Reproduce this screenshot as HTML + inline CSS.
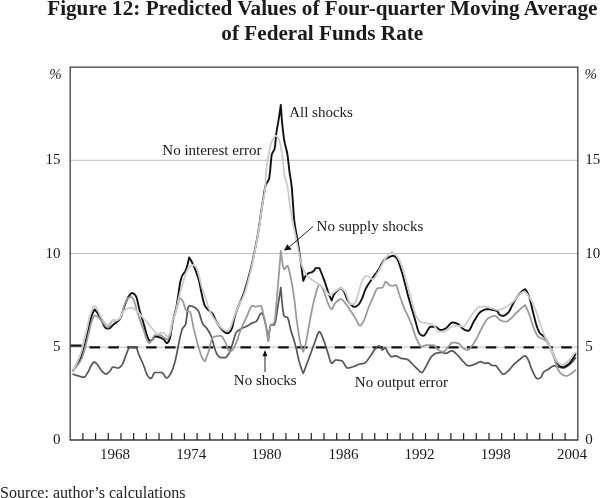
<!DOCTYPE html>
<html lang="en">
<head>
<meta charset="utf-8">
<title>Figure 12: Predicted Values of Four-quarter Moving Average of Federal Funds Rate</title>
<style>
html,body{margin:0;padding:0;background:#fff;-webkit-font-smoothing:antialiased;}
body{width:600px;height:498px;overflow:hidden;position:relative;font-family:"Liberation Serif","Times New Roman",serif;color:#111;}
#title{position:absolute;left:0;top:-4.4px;width:644.6px;text-align:center;font-weight:bold;font-size:21.2px;line-height:24.5px;color:#1a1a1a;white-space:nowrap;}
#source{position:absolute;left:0px;top:483.8px;font-size:16px;line-height:18px;color:#222;white-space:nowrap;}
svg{position:absolute;left:0;top:0;}
#title,#source,svg{will-change:transform;}
svg text{font-family:"Liberation Serif","Times New Roman",serif;font-size:15px;fill:#1a1a1a;}
</style>
</head>
<body>
<div id="title">Figure 12: Predicted Values of Four-quarter Moving Average<br>of Federal Funds Rate</div>
<svg width="600" height="498" viewBox="0 0 600 498">
  <!-- gridlines -->
  <g stroke="#b4b7ba" stroke-width="0.9" fill="none">
    <path d="M70.2,160.3 H577.8 M70.2,253.5 H577.8 M70.2,347.2 H577.8"/>
  </g>
  <!-- series -->
  <g fill="none" stroke-linejoin="round" stroke-linecap="butt">
    <path d="M89.5,347.4 H577.8" stroke="#111" stroke-width="2.4" stroke-dasharray="10.5 8.37"/>
    <path d="M70.6,345.6 H81.6" stroke="#111" stroke-width="2.2"/>
    <path d="M72.5,374.0 L73.5,374.4 L74.5,374.7 L75.5,375.0 L76.5,375.4 L77.5,375.7 L78.0,375.8 L78.5,375.9 L79.5,376.2 L80.5,376.6 L81.5,376.8 L82.5,377.1 L83.5,377.2 L84.0,377.2 L84.5,377.1 L85.5,376.1 L86.5,374.6 L87.5,373.0 L88.5,371.2 L89.5,369.0 L90.5,366.9 L91.0,366.0 L91.5,365.2 L92.5,363.4 L93.5,362.2 L94.0,362.0 L94.5,362.1 L95.5,362.7 L96.5,363.5 L97.0,364.0 L97.5,364.5 L98.5,366.1 L99.5,367.8 L100.5,369.4 L101.0,370.0 L101.5,370.5 L102.5,371.6 L103.5,372.7 L104.5,373.5 L105.5,373.9 L106.0,374.0 L106.5,373.9 L107.5,373.4 L108.5,372.5 L109.5,371.5 L110.0,371.0 L110.5,370.4 L111.5,368.6 L112.5,367.2 L113.0,367.0 L113.5,367.0 L114.5,367.2 L115.5,367.5 L116.5,367.8 L117.5,368.0 L118.0,368.0 L118.5,367.9 L119.5,367.5 L120.5,366.6 L121.5,365.6 L122.0,365.0 L122.5,364.2 L123.5,361.9 L124.5,359.0 L125.5,356.2 L126.0,355.0 L126.5,353.8 L127.5,351.2 L128.5,348.9 L129.5,347.4 L130.0,347.2 L130.5,347.2 L131.5,347.2 L132.5,347.2 L133.5,347.2 L134.5,347.2 L135.5,347.2 L135.8,347.2 L136.5,347.9 L137.5,350.5 L138.5,353.7 L139.0,355.0 L139.5,356.1 L140.5,358.3 L141.5,360.5 L142.5,362.7 L143.3,364.5 L143.5,365.0 L144.5,367.8 L145.5,370.8 L146.5,373.5 L147.5,375.4 L148.5,376.7 L149.5,377.9 L150.5,378.5 L150.8,378.5 L151.5,378.1 L152.5,376.3 L153.5,374.2 L154.5,372.7 L155.0,372.5 L155.5,372.5 L156.5,372.5 L157.5,372.5 L158.5,372.5 L159.5,372.5 L160.5,372.5 L161.5,372.5 L161.7,372.5 L162.5,372.9 L163.5,374.1 L164.5,375.7 L165.5,377.2 L166.5,378.0 L166.7,378.0 L167.5,377.7 L168.5,376.8 L169.5,375.4 L170.5,373.8 L170.8,373.3 L171.5,372.0 L172.5,369.6 L173.5,366.7 L174.5,363.4 L175.0,361.7 L175.5,359.7 L176.5,355.0 L177.5,350.0 L178.5,344.9 L179.5,339.8 L180.0,337.5 L180.5,335.4 L181.5,331.4 L182.5,328.5 L183.5,327.1 L184.5,326.2 L185.5,324.7 L185.6,324.5 L186.5,319.0 L187.5,310.3 L188.1,307.5 L188.5,306.9 L189.5,305.9 L190.0,305.8 L190.5,305.8 L191.5,306.0 L192.5,306.4 L193.3,306.7 L193.5,306.8 L194.5,307.3 L195.5,307.9 L196.5,308.8 L197.5,309.8 L198.3,310.8 L198.5,311.1 L199.5,313.7 L200.5,317.2 L201.5,320.8 L202.5,323.3 L203.5,324.7 L204.5,325.8 L205.5,326.8 L206.5,328.0 L206.7,328.3 L207.5,329.5 L208.5,331.0 L209.5,332.7 L210.5,334.7 L211.5,337.0 L211.7,337.5 L212.5,340.1 L213.5,344.2 L214.4,347.5 L214.5,347.8 L215.5,350.7 L216.5,353.3 L217.5,355.0 L218.5,356.1 L219.5,357.0 L220.5,357.6 L221.2,357.7 L221.5,357.7 L222.5,357.7 L223.5,357.7 L224.5,357.7 L225.0,357.7 L225.5,357.6 L226.5,356.9 L227.5,355.6 L228.5,354.1 L228.8,353.8 L229.5,352.3 L230.5,349.7 L231.5,346.7 L232.5,343.8 L233.5,340.5 L234.5,337.0 L235.5,334.0 L236.2,332.5 L236.5,332.2 L237.5,331.2 L238.5,330.4 L239.5,329.7 L240.0,329.4 L240.5,329.1 L241.5,328.6 L242.5,328.1 L243.5,327.6 L243.8,327.5 L244.5,327.2 L245.5,326.8 L246.5,326.3 L247.5,325.9 L248.1,325.6 L248.5,325.4 L249.5,324.7 L250.5,324.0 L251.5,323.3 L251.9,323.1 L252.5,322.9 L253.5,322.5 L254.5,322.2 L255.5,321.9 L255.8,321.7 L256.5,321.1 L257.5,319.5 L258.5,317.5 L259.5,315.4 L260.5,313.8 L261.5,313.0 L261.7,313.0 L262.5,313.8 L263.5,316.2 L264.2,318.3 L264.5,319.3 L265.5,323.3 L266.5,328.6 L267.5,335.0 L268.3,340.8 L269.3,332.0 L270.3,325.9 L270.8,325.0 L271.3,325.0 L272.3,325.0 L273.3,325.0 L274.2,325.0 L274.3,325.0 L275.3,322.4 L276.3,316.8 L277.3,309.9 L278.3,303.3 L279.3,297.3 L280.3,290.8 L280.8,287.5 L281.8,299.6 L282.8,309.5 L283.8,315.4 L284.2,316.2 L284.8,316.6 L285.8,316.9 L286.8,317.1 L287.5,317.5 L287.8,317.9 L288.8,321.0 L289.8,325.7 L290.8,330.0 L291.8,333.4 L292.8,336.6 L293.8,339.8 L294.8,343.1 L295.8,346.7 L296.8,351.0 L297.8,355.8 L298.8,360.2 L299.2,361.7 L299.8,363.7 L300.8,366.9 L301.8,369.8 L302.8,372.3 L303.3,373.3 L304.3,370.7 L305.3,368.0 L306.3,365.4 L307.3,362.7 L308.3,360.0 L309.3,357.3 L310.3,354.5 L311.3,351.7 L312.3,348.9 L313.3,346.2 L314.3,343.5 L315.0,341.7 L315.3,340.9 L316.3,337.9 L317.3,334.8 L318.3,332.5 L319.2,331.7 L319.3,331.7 L320.3,332.5 L321.3,334.4 L322.3,336.8 L323.3,339.2 L324.3,341.8 L325.3,344.8 L326.3,348.0 L327.3,351.1 L327.5,351.7 L328.3,354.3 L329.3,357.9 L330.3,361.2 L331.3,363.1 L331.7,363.3 L332.3,363.1 L333.3,362.2 L334.3,361.0 L335.3,360.1 L335.8,360.0 L336.3,360.0 L337.3,360.1 L338.3,360.2 L339.3,360.3 L340.3,360.5 L341.3,360.7 L341.7,360.8 L342.3,361.1 L343.3,362.3 L344.3,364.0 L345.3,365.8 L346.3,367.3 L347.3,368.0 L347.5,368.0 L348.3,368.0 L349.3,367.8 L350.3,367.6 L351.3,367.3 L352.3,367.0 L353.3,366.7 L354.3,366.3 L355.3,365.9 L356.3,365.4 L357.3,364.9 L358.3,364.5 L359.2,364.2 L359.3,364.2 L360.3,364.0 L361.3,363.8 L362.3,363.7 L363.3,363.5 L364.2,363.3 L364.3,363.3 L365.3,362.7 L366.3,361.7 L367.3,360.5 L368.3,359.1 L369.3,357.6 L370.0,356.7 L370.3,356.3 L371.3,354.8 L372.3,353.1 L373.3,351.5 L374.3,350.0 L375.0,349.2 L375.3,348.9 L376.3,347.8 L377.3,346.8 L378.3,346.0 L379.2,345.8 L379.3,345.8 L380.3,346.9 L381.3,348.7 L382.3,350.0 L382.5,350.0 L383.3,349.4 L384.3,348.0 L385.0,347.5 L385.3,347.6 L386.3,349.1 L387.3,351.4 L388.3,353.3 L389.3,354.6 L390.3,355.9 L391.3,356.6 L391.7,356.7 L392.3,356.6 L393.3,356.4 L394.3,356.1 L395.3,355.8 L395.8,355.8 L396.3,355.9 L397.3,356.3 L398.3,356.9 L399.3,357.6 L400.3,358.1 L400.8,358.3 L401.3,358.4 L402.3,358.6 L403.3,358.7 L404.3,358.8 L405.3,358.9 L406.3,359.1 L406.7,359.2 L407.3,359.4 L408.3,360.0 L409.3,360.9 L410.3,361.9 L411.3,362.9 L412.3,364.0 L413.3,365.0 L414.3,366.0 L415.3,367.0 L416.3,367.9 L416.7,368.3 L417.3,368.9 L418.3,370.0 L419.3,371.1 L420.3,372.0 L421.3,372.5 L421.7,372.5 L422.3,372.3 L423.3,371.1 L424.3,369.4 L425.3,367.6 L425.8,366.7 L426.3,365.8 L427.3,363.9 L428.3,361.8 L429.3,359.8 L430.3,358.2 L430.8,357.5 L431.3,356.9 L432.3,355.8 L433.3,354.8 L434.3,354.0 L435.3,353.5 L435.8,353.3 L436.3,353.2 L437.3,353.0 L438.3,352.8 L439.3,352.7 L440.3,352.6 L441.3,352.5 L441.7,352.5 L442.3,352.5 L443.3,352.8 L444.3,353.1 L445.3,353.3 L445.8,353.3 L446.3,353.2 L447.3,352.9 L448.3,352.3 L449.3,351.7 L450.3,351.2 L451.3,350.8 L451.7,350.8 L452.3,350.9 L453.3,351.3 L454.3,352.0 L455.3,352.9 L456.3,353.9 L457.3,354.8 L457.5,355.0 L458.3,355.8 L459.3,356.9 L460.3,358.2 L461.3,359.4 L462.3,360.6 L463.3,361.7 L464.3,362.7 L465.3,363.8 L466.3,364.8 L467.3,365.5 L468.3,365.8 L469.3,365.7 L470.3,365.6 L471.3,365.4 L472.3,365.1 L473.3,364.7 L474.3,364.4 L475.0,364.2 L475.3,364.1 L476.3,363.6 L477.3,363.1 L478.3,362.5 L479.3,362.0 L480.3,361.7 L480.8,361.7 L481.3,361.8 L482.3,362.2 L483.3,362.7 L484.3,363.2 L485.0,363.3 L485.3,363.3 L486.3,363.2 L487.3,363.1 L488.3,363.0 L489.3,363.4 L490.3,364.3 L491.3,365.1 L491.7,365.3 L492.3,365.4 L493.3,365.5 L494.3,365.6 L495.3,365.7 L495.8,365.8 L496.3,366.1 L497.3,367.2 L498.3,368.8 L499.2,370.0 L499.3,370.1 L500.3,371.4 L501.3,372.7 L502.3,373.8 L503.3,374.2 L504.3,374.0 L505.3,373.4 L506.3,372.6 L507.3,371.7 L508.3,370.8 L509.3,369.9 L510.3,368.7 L511.3,367.5 L512.3,366.3 L513.3,365.1 L514.2,364.2 L514.3,364.1 L515.3,363.2 L516.3,362.2 L517.3,361.4 L518.3,360.5 L519.3,359.7 L520.0,359.2 L520.3,359.0 L521.3,358.1 L522.3,357.2 L523.3,356.4 L524.3,355.9 L525.0,355.8 L525.3,355.9 L526.3,356.7 L527.3,358.2 L528.3,360.0 L529.3,362.3 L530.3,365.4 L531.3,368.3 L531.7,369.2 L532.3,370.5 L533.3,372.7 L534.3,374.9 L535.3,376.7 L536.3,378.1 L537.3,378.7 L537.5,378.7 L538.3,378.6 L539.3,378.3 L540.3,377.8 L540.8,377.5 L541.3,376.9 L542.3,374.5 L543.3,372.5 L544.3,371.6 L545.3,370.9 L546.3,370.3 L547.3,369.8 L548.3,369.2 L549.3,368.5 L550.3,367.8 L551.3,367.0 L552.3,366.4 L553.3,365.9 L554.2,365.8 L554.3,365.8 L555.3,365.9 L556.3,366.2 L557.3,366.6 L558.3,366.9 L559.3,367.2 L560.3,367.5 L561.3,367.7 L562.3,367.9 L563.3,368.0 L564.3,367.8 L565.3,367.4 L566.3,366.8 L567.3,366.2 L568.3,365.5 L569.3,364.8 L570.3,364.0 L571.3,363.0 L572.3,362.0 L572.5,361.8 L573.3,360.9 L574.3,359.5 L575.3,358.0 L575.8,357.2" stroke="#555" stroke-width="1.7"/>
    <path d="M72.5,371.0 L73.5,369.7 L74.5,368.4 L75.5,367.0 L76.0,366.3 L76.5,365.6 L77.5,364.2 L78.5,362.7 L79.5,361.0 L80.0,360.0 L80.5,358.9 L81.5,356.3 L82.5,353.3 L83.5,350.0 L84.5,346.3 L85.5,342.2 L86.0,340.0 L86.5,337.7 L87.5,333.0 L88.5,328.4 L89.5,323.8 L90.5,319.7 L91.0,318.0 L91.5,316.5 L92.5,313.7 L93.5,311.3 L94.5,309.5 L95.5,310.5 L96.5,311.6 L97.5,313.0 L98.5,314.7 L99.5,316.6 L100.5,318.6 L101.0,319.5 L101.5,320.4 L102.5,322.5 L103.5,324.7 L104.5,326.6 L105.5,328.0 L106.5,328.5 L107.5,328.5 L108.5,328.5 L109.0,328.5 L109.5,328.4 L110.5,327.7 L111.5,326.7 L112.5,325.5 L113.4,324.6 L113.5,324.5 L114.5,323.7 L115.5,323.0 L116.5,322.2 L117.5,321.4 L118.5,320.5 L119.5,319.5 L120.5,318.2 L121.5,315.8 L122.5,312.4 L123.4,309.5 L123.5,309.2 L124.5,306.2 L125.5,303.3 L126.4,301.0 L126.5,300.8 L127.5,298.6 L128.5,296.7 L128.8,296.3 L129.5,295.3 L130.5,294.0 L131.5,293.1 L132.0,293.0 L132.5,293.1 L133.5,293.6 L134.5,294.3 L135.5,295.5 L136.2,296.8 L136.5,297.5 L137.5,301.1 L138.5,305.6 L139.5,309.9 L139.6,310.3 L140.5,313.4 L141.5,316.7 L142.5,319.9 L143.5,323.2 L143.8,324.2 L144.5,326.7 L145.5,330.4 L146.5,333.8 L146.9,335.0 L147.5,336.8 L148.5,339.5 L149.4,340.6 L149.5,340.6 L150.5,340.5 L151.5,340.2 L151.9,340.0 L152.5,339.5 L153.5,337.9 L154.5,336.5 L155.0,336.3 L155.5,336.3 L156.5,336.5 L157.5,336.7 L158.5,337.0 L159.5,337.3 L160.0,337.5 L160.5,337.7 L161.5,338.1 L162.5,338.6 L163.5,339.2 L163.8,339.4 L164.5,340.2 L165.5,341.8 L166.5,343.0 L166.9,343.1 L167.5,342.9 L168.5,341.5 L169.5,339.4 L170.0,338.1 L170.5,336.0 L171.5,329.1 L172.5,322.5 L173.5,318.2 L174.5,314.7 L175.5,311.0 L176.3,307.5 L176.5,306.5 L177.5,300.2 L178.5,293.3 L178.8,291.3 L179.5,286.3 L180.0,283.3 L180.5,281.1 L181.5,277.5 L182.5,275.0 L183.5,273.6 L184.5,272.5 L185.0,271.7 L185.5,270.7 L186.5,268.0 L187.5,264.7 L188.5,260.6 L189.2,257.5 L190.2,259.1 L191.2,260.8 L192.2,262.7 L193.2,264.8 L193.3,265.0 L194.2,267.0 L195.2,269.4 L196.2,272.1 L197.2,274.9 L198.2,278.0 L198.3,278.3 L199.2,281.6 L200.2,286.2 L201.2,291.2 L202.2,296.1 L203.2,300.6 L204.2,304.1 L205.0,306.0 L205.2,306.3 L206.2,307.7 L207.2,308.8 L208.2,309.8 L208.8,310.3 L209.2,310.7 L210.2,311.6 L211.2,312.4 L212.2,313.4 L212.5,313.8 L213.2,314.8 L214.2,316.9 L215.2,319.1 L216.2,321.2 L216.2,321.2 L217.2,322.9 L218.2,324.6 L219.2,326.1 L220.2,327.5 L221.2,328.7 L221.2,328.8 L222.2,329.7 L223.2,330.8 L224.2,331.7 L225.2,332.5 L226.2,333.1 L227.2,333.3 L227.3,333.3 L228.2,333.1 L229.2,332.4 L230.2,331.4 L231.2,330.1 L231.3,330.0 L232.2,327.7 L233.2,323.5 L234.2,318.9 L235.0,315.8 L235.2,315.2 L236.2,312.2 L237.2,309.4 L238.2,306.8 L239.2,304.3 L240.2,301.9 L240.8,300.5 L241.2,299.6 L242.2,297.4 L242.5,296.7 L243.2,294.8 L244.2,292.0 L245.2,288.9 L246.2,285.6 L247.2,282.1 L248.2,278.5 L249.2,274.7 L250.0,271.7 L250.2,270.9 L251.2,266.9 L252.2,262.6 L253.2,258.0 L254.2,253.3 L255.2,248.4 L256.2,243.3 L257.2,238.0 L258.2,232.3 L258.3,231.7 L259.2,226.0 L260.2,219.0 L261.2,211.9 L262.2,205.2 L262.5,203.3 L263.2,198.9 L264.2,192.5 L265.2,187.2 L265.8,185.0 L266.2,184.0 L267.2,182.3 L268.2,180.9 L269.2,178.3 L270.0,172.0 L270.2,170.1 L271.2,158.6 L271.7,155.0 L272.2,153.4 L273.2,151.6 L274.2,149.9 L274.7,148.3 L275.2,144.7 L276.2,134.1 L276.3,133.3 L277.2,127.8 L278.2,122.3 L278.3,121.7 L279.2,116.0 L280.2,109.2 L280.8,105.0 L281.8,119.4 L282.0,121.7 L282.8,129.5 L283.8,137.4 L284.2,140.0 L284.8,143.2 L285.8,147.3 L286.8,151.3 L287.5,155.0 L287.8,157.1 L288.8,166.0 L289.5,172.0 L289.8,174.1 L290.8,180.2 L291.7,186.7 L291.8,187.6 L292.8,201.1 L293.8,215.8 L294.2,220.0 L294.8,224.6 L295.8,230.6 L296.8,235.9 L297.5,240.0 L297.8,241.9 L298.8,248.5 L299.8,255.3 L300.0,256.7 L300.8,262.3 L301.8,269.6 L302.8,277.0 L303.3,280.8 L304.3,278.4 L305.3,276.4 L306.3,275.0 L307.3,274.1 L308.3,273.4 L308.8,273.1 L309.3,272.9 L310.3,272.6 L311.3,272.4 L312.3,272.0 L312.5,271.9 L313.3,271.3 L314.3,270.1 L315.3,268.6 L315.6,268.1 L319.4,268.1 L320.4,270.5 L321.4,273.0 L322.4,275.5 L323.4,278.1 L324.4,280.8 L325.0,282.5 L325.4,283.6 L326.4,286.7 L327.4,289.8 L328.4,292.7 L328.8,293.8 L329.4,295.3 L330.4,297.7 L331.4,299.9 L331.7,300.5 L332.7,297.5 L333.7,295.1 L334.4,293.8 L334.7,293.4 L335.7,292.2 L336.7,291.3 L337.5,290.6 L337.7,290.4 L338.7,289.5 L339.7,288.7 L340.7,288.4 L341.7,288.8 L342.7,289.9 L343.7,291.2 L343.8,291.3 L344.7,293.0 L345.7,295.6 L346.7,298.3 L347.5,300.0 L347.7,300.3 L348.7,301.9 L349.7,303.3 L350.7,304.4 L351.3,305.0 L351.7,305.3 L352.7,306.2 L353.7,306.8 L354.4,306.9 L354.7,306.9 L355.7,306.6 L356.7,306.0 L357.7,305.3 L358.1,305.0 L358.7,304.4 L359.7,303.0 L360.7,301.2 L361.7,299.2 L361.9,298.8 L362.7,296.9 L363.7,294.0 L364.7,291.2 L365.4,289.5 L365.7,288.9 L366.7,287.0 L367.7,285.3 L368.7,283.7 L369.7,282.2 L370.7,280.7 L371.7,279.2 L372.7,277.7 L373.7,276.4 L374.7,275.0 L375.7,273.7 L376.7,272.3 L377.7,270.9 L378.3,270.0 L378.7,269.4 L379.7,267.6 L380.7,265.6 L381.7,263.7 L382.7,261.9 L383.7,260.5 L384.2,260.0 L384.7,259.6 L385.7,258.9 L386.7,258.3 L387.7,257.8 L388.3,257.5 L388.7,257.3 L389.7,256.9 L390.7,256.4 L391.7,256.1 L392.7,255.8 L393.3,255.8 L393.7,255.8 L394.7,256.3 L395.7,257.2 L396.7,258.3 L397.7,259.9 L398.7,262.3 L399.7,265.3 L400.7,268.5 L401.7,271.7 L402.7,275.0 L403.7,278.7 L404.7,282.6 L405.7,286.6 L406.7,290.6 L407.7,294.5 L408.3,296.7 L408.7,298.1 L409.7,301.6 L410.7,305.1 L411.7,308.5 L412.7,311.8 L413.7,315.1 L414.2,316.7 L414.7,318.4 L415.7,322.0 L416.7,325.8 L417.7,329.2 L418.7,332.1 L419.7,333.9 L420.0,334.2 L420.7,334.7 L421.7,335.3 L422.7,335.7 L423.3,335.8 L423.7,335.7 L424.7,335.0 L425.7,333.6 L426.7,331.9 L427.7,330.1 L428.7,328.4 L429.7,327.2 L430.7,326.7 L430.8,326.7 L431.7,326.7 L432.7,326.7 L433.7,326.7 L434.7,326.7 L435.0,326.7 L435.7,326.8 L436.7,327.4 L437.7,328.2 L438.7,329.0 L439.7,329.7 L440.7,330.0 L440.8,330.0 L441.7,329.9 L442.7,329.7 L443.7,329.3 L444.7,328.8 L445.7,328.3 L445.8,328.3 L446.7,327.7 L447.7,326.7 L448.7,325.5 L449.7,324.4 L450.7,323.4 L451.7,322.7 L452.5,322.5 L452.7,322.5 L453.7,322.6 L454.7,322.8 L455.7,323.0 L456.7,323.3 L457.7,323.8 L458.7,324.5 L459.7,325.4 L460.7,326.4 L461.7,327.5 L462.7,328.5 L463.7,329.3 L464.7,329.9 L465.0,330.0 L465.7,330.2 L466.7,330.6 L467.7,330.8 L468.3,330.8 L468.7,330.7 L469.7,329.8 L470.7,328.1 L471.7,325.9 L472.7,323.7 L473.7,321.6 L474.2,320.8 L474.7,320.0 L475.7,318.4 L476.7,316.8 L477.7,315.2 L478.7,313.8 L479.7,312.6 L480.7,311.8 L480.8,311.7 L481.7,311.1 L482.7,310.5 L483.7,310.0 L484.7,309.6 L485.7,309.3 L486.7,309.2 L487.7,309.2 L488.7,309.3 L489.7,309.4 L490.7,309.6 L491.7,309.7 L492.7,309.9 L493.3,310.0 L493.7,310.1 L494.7,310.2 L495.7,310.5 L496.7,310.8 L497.7,311.8 L498.7,313.5 L499.7,314.8 L500.0,315.0 L500.7,315.3 L501.7,315.6 L502.7,315.8 L503.3,315.8 L503.7,315.8 L504.7,315.4 L505.7,314.8 L506.7,314.0 L507.7,313.1 L508.3,312.5 L508.7,312.1 L509.7,310.5 L510.7,308.5 L511.7,306.4 L512.7,304.4 L513.3,303.3 L513.7,302.6 L514.7,301.0 L515.7,299.3 L516.7,297.7 L517.7,296.2 L518.7,294.8 L519.7,293.6 L520.0,293.3 L520.7,292.6 L521.7,291.6 L522.7,290.8 L523.7,290.0 L524.7,289.4 L525.0,289.2 L526.0,290.2 L527.0,291.8 L528.0,293.9 L529.0,296.2 L529.2,296.7 L530.0,299.2 L531.0,303.2 L532.0,307.7 L533.0,312.1 L533.3,313.3 L534.0,316.0 L535.0,319.9 L536.0,323.7 L537.0,326.9 L537.5,328.3 L538.0,329.5 L539.0,331.7 L540.0,333.3 L541.0,334.3 L542.0,335.0 L543.0,335.7 L544.0,336.5 L544.2,336.7 L545.0,337.7 L546.0,339.1 L547.0,340.8 L548.0,342.7 L549.0,344.7 L550.0,346.7 L551.0,348.9 L552.0,351.4 L553.0,353.9 L554.0,356.3 L554.2,356.7 L555.0,358.5 L556.0,360.7 L557.0,362.6 L557.5,363.3 L558.0,363.9 L559.0,365.0 L560.0,366.0 L561.0,366.7 L562.0,367.1 L562.5,367.2 L563.0,367.2 L564.0,366.9 L565.0,366.5 L566.0,365.9 L567.0,365.2 L568.0,364.4 L568.3,364.2 L569.0,363.6 L570.0,362.6 L571.0,361.3 L572.0,359.9 L572.5,359.2 L573.0,358.4 L574.0,356.8 L575.0,354.9 L575.8,353.3" stroke="#111" stroke-width="1.9"/>
    <path d="M72.5,371.3 L73.5,370.2 L74.5,369.1 L75.5,367.9 L76.5,366.6 L77.5,365.3 L78.5,364.0 L79.5,362.6 L80.5,360.9 L81.0,360.0 L81.5,358.9 L82.5,356.3 L83.5,353.3 L84.5,350.0 L85.5,346.2 L86.5,342.1 L87.0,340.0 L87.5,338.0 L88.5,334.0 L89.0,332.0 L89.5,329.9 L90.5,325.7 L91.5,321.9 L92.0,320.5 L92.5,319.3 L93.5,317.1 L94.5,315.7 L95.0,315.5 L95.5,315.6 L96.5,316.0 L97.5,316.6 L98.0,317.0 L98.5,317.4 L99.5,318.5 L100.5,319.8 L101.5,321.0 L102.5,322.2 L103.5,323.5 L104.5,324.8 L105.5,326.0 L106.5,326.9 L107.5,327.4 L108.0,327.5 L108.5,327.3 L109.5,325.8 L110.5,323.6 L111.5,321.6 L112.5,320.6 L112.6,320.6 L113.5,320.6 L114.5,320.7 L115.5,320.8 L116.0,320.8 L116.5,320.7 L117.5,320.2 L118.5,319.6 L119.5,318.9 L120.2,318.2 L120.5,317.7 L121.5,315.0 L122.5,311.4 L123.1,309.5 L123.5,308.3 L124.5,305.1 L125.5,302.2 L126.1,301.0 L126.5,300.4 L127.5,298.9 L128.5,297.9 L129.0,297.6 L129.5,297.4 L130.5,297.1 L131.5,297.0 L131.6,297.0 L132.5,297.7 L133.5,299.6 L134.5,301.9 L135.5,305.2 L136.5,309.3 L137.0,311.1 L137.5,312.7 L138.5,315.8 L139.5,318.8 L140.5,321.6 L141.0,323.0 L141.5,324.4 L142.5,327.0 L143.5,329.7 L143.8,330.5 L144.5,332.7 L145.5,336.2 L146.5,339.2 L146.9,340.0 L147.5,341.1 L148.5,342.5 L149.4,343.1 L149.5,343.1 L150.5,342.2 L151.5,340.6 L151.9,340.0 L152.5,339.0 L153.5,336.9 L154.5,335.3 L155.0,335.0 L155.5,335.0 L156.5,335.0 L157.5,335.0 L158.5,335.0 L159.5,335.0 L160.0,335.0 L160.5,335.1 L161.5,335.6 L162.5,336.5 L163.5,337.3 L163.8,337.5 L164.5,338.0 L165.5,338.8 L166.5,339.3 L166.9,339.4 L167.5,339.2 L168.5,338.0 L169.5,336.1 L170.0,335.0 L170.5,333.2 L171.5,327.0 L172.5,321.3 L173.5,317.9 L174.5,315.1 L175.5,312.4 L176.3,310.0 L176.5,309.3 L177.5,305.7 L178.5,301.8 L179.4,298.1 L180.4,298.4 L181.4,299.3 L182.4,300.5 L182.5,300.6 L183.4,302.6 L184.4,305.9 L185.4,309.1 L186.3,310.6 L186.4,310.7 L187.4,311.1 L188.1,311.3 L188.4,311.4 L189.4,311.7 L190.0,312.0 L190.4,312.6 L191.4,316.6 L192.4,322.1 L193.3,326.7 L193.4,327.1 L194.4,331.3 L195.4,335.4 L196.4,339.4 L197.4,343.2 L198.4,346.7 L198.5,347.0 L199.4,350.0 L200.4,353.2 L201.4,356.1 L202.4,358.3 L202.7,358.8 L203.4,359.8 L204.4,361.0 L205.0,361.4 L206.0,358.8 L207.0,356.0 L208.0,353.1 L208.2,352.5 L209.0,349.7 L210.0,345.5 L211.0,341.5 L212.0,338.5 L212.7,337.5 L213.0,337.3 L214.0,336.9 L215.0,336.6 L216.0,336.4 L216.2,336.4 L217.0,336.2 L218.0,336.1 L219.0,335.9 L220.0,335.8 L220.8,335.8 L221.0,335.8 L222.0,336.6 L223.0,338.1 L224.0,339.9 L225.0,341.7 L226.0,343.8 L227.0,346.4 L228.0,349.0 L229.0,350.9 L230.0,351.7 L231.0,351.3 L232.0,350.5 L232.5,350.0 L233.0,349.4 L234.0,347.8 L235.0,345.7 L236.0,343.4 L236.7,341.7 L237.0,340.9 L238.0,337.9 L239.0,334.7 L240.0,331.7 L241.0,329.2 L242.0,326.8 L243.0,324.5 L244.0,322.3 L245.0,320.2 L246.0,318.1 L246.7,316.7 L247.0,316.1 L248.0,313.7 L249.0,311.2 L250.0,308.9 L251.0,307.0 L252.0,305.9 L252.5,305.8 L253.0,305.9 L254.0,306.4 L255.0,306.7 L256.0,306.6 L257.0,306.5 L258.0,306.2 L259.0,306.0 L260.0,305.8 L260.8,305.8 L261.0,305.9 L262.0,308.2 L263.0,312.5 L264.0,317.4 L264.2,318.3 L265.0,322.0 L266.0,327.1 L267.0,332.8 L268.0,338.9 L268.3,340.8 L269.3,332.4 L270.3,326.3 L270.8,325.0 L271.3,324.5 L272.3,324.1 L273.3,323.7 L274.2,323.0 L274.3,322.8 L275.3,316.6 L276.3,304.9 L277.3,292.3 L277.5,290.0 L278.3,281.1 L279.3,269.4 L280.3,257.1 L280.8,250.8 L281.8,259.0 L282.8,265.4 L283.8,268.9 L284.2,269.2 L284.8,268.9 L285.8,267.6 L286.8,266.2 L287.5,265.8 L287.8,266.0 L288.8,268.7 L289.8,273.3 L290.8,278.3 L291.8,283.3 L292.8,289.1 L293.8,295.5 L294.2,298.3 L294.8,303.1 L295.8,312.4 L296.7,320.0 L296.8,320.7 L297.8,327.9 L298.8,334.7 L299.8,340.5 L300.8,345.0 L301.8,348.3 L302.8,350.8 L303.3,351.7 L304.3,348.8 L305.3,345.3 L305.8,343.3 L306.3,341.1 L307.3,335.7 L308.3,329.7 L309.3,323.8 L310.0,320.0 L310.3,318.5 L311.3,313.3 L312.3,308.3 L313.3,303.6 L314.3,299.3 L315.0,296.7 L315.3,295.6 L316.3,291.9 L317.3,288.4 L318.3,285.9 L319.2,285.0 L319.3,285.0 L320.3,285.5 L321.3,286.6 L322.3,288.2 L323.3,290.0 L324.3,292.8 L325.0,295.0 L325.3,295.8 L326.3,298.5 L327.3,301.4 L328.3,304.1 L329.3,306.4 L330.3,308.2 L331.3,309.1 L331.7,309.2 L332.3,308.8 L333.3,306.8 L334.3,304.4 L335.0,303.3 L335.3,303.0 L336.3,301.9 L337.3,301.0 L338.3,300.2 L339.3,299.6 L340.3,299.2 L340.8,299.2 L341.3,299.3 L342.3,299.8 L343.3,300.7 L344.3,301.9 L345.3,303.2 L346.3,304.5 L346.7,305.0 L347.3,305.8 L348.3,307.2 L349.3,308.7 L350.3,310.3 L351.3,311.9 L351.7,312.5 L352.3,313.4 L353.3,315.0 L354.3,316.6 L355.3,318.2 L355.8,319.0 L356.3,319.9 L357.3,322.0 L358.3,324.0 L359.3,325.5 L360.0,325.8 L360.3,325.7 L361.3,324.9 L362.3,323.4 L363.3,321.7 L364.3,319.6 L365.3,317.0 L366.3,314.0 L367.3,311.0 L368.3,308.3 L369.3,305.8 L370.3,303.5 L371.3,301.1 L372.3,298.9 L373.3,296.7 L374.3,294.3 L375.3,291.8 L376.3,289.6 L377.3,288.4 L377.5,288.3 L378.3,288.1 L379.3,288.0 L380.3,287.9 L381.3,287.8 L382.3,287.6 L382.5,287.5 L383.3,286.5 L384.3,284.1 L385.3,282.0 L385.8,281.7 L386.3,281.9 L387.3,282.9 L388.3,284.2 L389.2,285.0 L389.3,285.0 L390.3,285.4 L391.3,285.7 L392.3,285.8 L392.5,285.8 L393.3,285.7 L394.3,285.3 L395.3,285.0 L395.8,285.0 L396.3,285.3 L397.3,287.5 L398.3,290.9 L399.3,294.5 L400.0,296.7 L400.3,297.5 L401.3,300.3 L402.3,303.1 L403.3,305.9 L404.3,308.4 L405.0,310.0 L405.3,310.6 L406.3,312.5 L406.7,313.3 L407.3,314.6 L408.3,316.8 L409.3,319.1 L410.3,321.5 L411.3,324.0 L411.7,325.0 L412.3,326.6 L413.3,329.6 L414.3,332.8 L415.3,335.8 L416.3,338.4 L416.7,339.2 L417.3,340.4 L418.3,342.5 L419.3,344.4 L420.3,345.8 L421.3,346.6 L421.7,346.7 L422.3,346.6 L423.3,346.3 L424.3,345.8 L425.3,345.3 L426.3,345.0 L426.7,345.0 L427.3,345.0 L428.3,345.0 L429.3,345.0 L430.3,345.0 L431.3,345.0 L432.3,345.0 L433.3,345.0 L434.3,345.4 L435.3,346.5 L436.3,347.9 L437.3,349.2 L438.3,350.0 L439.3,350.5 L440.3,351.0 L441.3,351.3 L442.3,351.6 L443.3,351.7 L444.3,351.3 L445.3,350.4 L446.3,349.2 L447.3,347.9 L448.3,346.7 L449.3,345.5 L450.3,344.2 L451.3,343.1 L452.3,342.5 L452.5,342.5 L453.3,342.5 L454.3,342.6 L455.3,342.7 L456.3,342.9 L457.3,343.1 L458.3,343.3 L459.3,343.9 L460.3,345.0 L461.3,346.2 L462.3,347.5 L463.3,348.3 L464.3,348.9 L465.3,349.4 L466.3,349.8 L467.3,350.0 L467.5,350.0 L468.3,349.8 L469.3,349.0 L470.3,347.9 L471.3,346.6 L472.3,345.3 L472.5,345.0 L473.3,343.9 L474.3,342.4 L475.3,340.8 L476.3,339.0 L476.7,338.3 L477.3,337.2 L478.3,335.2 L479.3,333.1 L480.3,331.0 L481.3,329.0 L481.7,328.3 L482.3,327.2 L483.3,325.4 L484.3,323.6 L485.3,321.9 L486.3,320.3 L487.3,319.1 L488.3,318.3 L489.3,317.7 L490.3,317.2 L491.3,316.7 L492.3,316.3 L493.3,316.0 L494.3,315.8 L495.0,315.8 L495.3,315.8 L496.3,316.4 L497.3,317.4 L498.3,318.5 L499.3,319.5 L500.0,320.0 L500.3,320.1 L501.3,320.6 L502.3,321.0 L503.3,321.3 L504.3,321.5 L505.3,321.7 L505.8,321.7 L506.3,321.6 L507.3,321.2 L508.3,320.5 L509.3,319.7 L510.0,319.2 L510.3,319.0 L511.3,318.1 L512.3,317.1 L513.3,316.1 L514.3,315.0 L515.3,313.9 L516.3,312.9 L516.7,312.5 L517.3,311.9 L518.3,311.0 L519.3,310.1 L520.3,309.1 L521.3,308.2 L522.3,307.3 L523.3,306.5 L524.3,305.6 L525.0,305.0 L526.0,306.9 L527.0,309.0 L528.0,311.2 L529.0,313.7 L529.2,314.2 L530.0,316.5 L531.0,319.7 L532.0,323.0 L533.0,325.9 L533.3,326.7 L534.0,328.4 L535.0,330.9 L536.0,333.2 L537.0,335.1 L538.0,336.4 L538.3,336.7 L539.0,337.1 L540.0,337.6 L541.0,338.0 L541.7,338.3 L542.0,338.5 L543.0,339.0 L544.0,339.5 L545.0,340.2 L545.8,340.8 L546.0,341.0 L547.0,342.2 L548.0,343.7 L549.0,345.6 L550.0,347.5 L551.0,349.7 L552.0,352.2 L553.0,355.0 L554.0,357.8 L554.2,358.3 L555.0,360.7 L556.0,363.9 L557.0,367.0 L558.0,369.5 L558.3,370.0 L559.0,371.1 L560.0,372.5 L561.0,373.6 L562.0,374.4 L562.5,374.7 L563.0,374.9 L564.0,375.3 L565.0,375.6 L566.0,375.8 L566.7,375.8 L567.0,375.8 L568.0,375.5 L569.0,375.1 L570.0,374.4 L571.0,373.8 L571.7,373.3 L572.0,373.1 L573.0,372.3 L574.0,371.5 L575.0,370.5 L575.8,369.7" stroke="#999" stroke-width="1.75"/>
    <path d="M72.5,370.3 L73.5,368.9 L74.5,367.3 L75.5,365.5 L76.5,363.5 L77.5,361.2 L78.0,360.0 L78.5,358.8 L79.5,356.3 L80.5,353.7 L81.5,350.7 L82.0,349.0 L82.5,347.0 L83.5,342.2 L84.0,340.0 L84.5,338.2 L85.5,334.8 L86.0,333.0 L86.5,330.9 L87.5,326.2 L88.5,321.4 L89.5,317.1 L90.0,315.5 L90.5,314.0 L91.5,311.1 L92.5,308.5 L93.5,306.7 L94.5,306.0 L95.5,306.7 L96.5,308.3 L97.5,310.0 L98.5,311.9 L99.5,314.1 L100.5,316.2 L101.0,317.0 L101.5,317.8 L102.5,319.3 L103.5,320.9 L104.5,322.3 L105.5,323.5 L106.5,324.4 L107.5,324.9 L108.0,325.0 L108.5,324.8 L109.5,323.8 L110.5,322.2 L111.5,320.7 L112.5,320.0 L112.6,320.0 L113.5,320.1 L114.5,320.2 L115.5,320.3 L116.0,320.3 L116.5,320.2 L117.5,319.8 L118.5,319.2 L119.5,318.5 L120.2,317.8 L120.5,317.4 L121.5,315.3 L122.5,313.0 L123.1,312.0 L123.5,311.5 L124.5,310.3 L125.5,309.3 L126.1,309.0 L126.5,308.9 L127.5,308.5 L128.5,308.2 L129.5,308.0 L130.5,307.9 L131.5,307.8 L131.6,307.8 L132.5,308.0 L133.5,308.4 L134.5,309.0 L135.5,309.7 L136.5,310.6 L137.5,311.6 L138.5,312.6 L138.7,312.8 L139.5,313.6 L140.5,314.8 L141.5,316.0 L142.5,317.2 L143.5,318.4 L143.8,318.7 L144.5,319.5 L145.5,320.6 L146.5,321.6 L147.5,322.7 L148.5,323.9 L148.8,324.2 L149.5,325.0 L150.5,326.4 L151.5,327.7 L152.5,329.0 L153.5,330.3 L154.5,331.4 L155.0,331.9 L155.5,332.4 L156.5,333.4 L157.5,333.8 L158.5,333.6 L159.5,333.3 L160.5,332.9 L161.3,332.8 L161.5,332.8 L162.5,332.9 L163.5,333.0 L163.8,333.1 L164.5,333.6 L165.5,335.0 L166.5,336.2 L166.9,336.3 L167.5,336.2 L168.5,335.4 L169.5,334.0 L170.0,333.1 L170.5,331.1 L171.5,324.5 L171.9,322.5 L172.5,320.7 L173.5,318.5 L174.5,316.4 L175.0,315.0 L175.5,313.2 L176.5,308.6 L177.5,303.6 L178.3,300.0 L178.5,299.2 L179.5,295.2 L180.5,291.3 L181.5,287.7 L182.5,284.3 L183.3,281.7 L183.5,281.1 L184.5,277.8 L185.5,274.6 L186.5,271.8 L187.5,269.5 L188.3,268.3 L188.5,268.1 L189.5,267.1 L190.5,266.2 L191.5,265.5 L192.5,265.1 L193.3,265.0 L193.5,265.0 L194.5,265.5 L195.5,266.6 L196.5,268.0 L196.7,268.3 L197.5,270.0 L198.5,273.5 L199.5,277.7 L200.5,282.1 L201.5,286.0 L201.7,286.7 L202.5,289.2 L203.5,292.2 L204.5,295.1 L205.5,298.0 L206.5,300.8 L206.9,302.0 L207.5,303.9 L208.5,307.1 L209.5,310.0 L210.0,311.2 L210.5,312.3 L211.5,314.3 L212.5,316.1 L213.5,317.7 L214.5,319.2 L215.0,320.0 L215.5,320.8 L216.5,322.3 L217.5,323.8 L218.5,325.1 L219.5,326.2 L220.0,326.7 L220.5,327.1 L221.5,328.0 L222.5,328.8 L223.5,329.6 L224.5,330.2 L225.5,330.6 L226.5,330.9 L226.9,330.9 L227.5,330.8 L228.5,330.0 L229.5,328.9 L230.0,328.3 L230.5,327.5 L231.5,324.9 L232.5,321.8 L233.5,318.7 L233.8,318.0 L234.5,316.0 L235.5,313.4 L236.5,310.9 L237.5,308.4 L238.5,306.1 L238.8,305.5 L239.5,303.9 L240.5,302.0 L241.5,300.2 L242.5,298.3 L243.5,296.0 L244.5,293.3 L245.5,290.3 L246.5,287.0 L247.5,283.4 L248.5,279.6 L249.5,275.7 L250.5,271.7 L251.5,267.4 L252.5,262.7 L253.5,257.8 L254.4,253.3 L254.5,252.8 L255.5,247.7 L256.5,242.4 L257.5,236.9 L258.4,231.7 L258.5,231.1 L259.5,224.7 L260.5,217.7 L261.5,210.7 L262.5,203.9 L262.6,203.3 L263.5,198.6 L264.5,193.5 L265.4,186.0 L265.5,184.4 L266.0,173.0 L266.5,167.9 L267.5,161.0 L268.3,156.7 L268.5,155.6 L269.5,150.2 L270.5,145.6 L271.5,142.2 L271.7,141.7 L272.5,140.0 L273.5,138.0 L274.5,136.6 L275.5,135.8 L275.8,135.8 L276.5,136.0 L277.5,137.1 L278.5,138.7 L279.2,140.0 L279.5,140.7 L280.5,144.6 L281.5,150.1 L282.5,156.7 L283.5,166.7 L284.2,173.0 L284.5,174.7 L285.5,178.9 L286.5,182.4 L287.5,186.7 L288.5,193.5 L289.5,201.8 L290.5,209.7 L290.8,211.7 L291.5,215.8 L292.5,221.0 L293.3,225.0 L293.5,226.0 L294.5,230.8 L295.5,235.5 L296.0,238.0 L296.5,240.6 L297.5,245.9 L298.3,250.0 L298.5,251.0 L299.5,255.9 L300.5,260.6 L301.5,264.4 L301.7,265.0 L302.5,267.1 L303.5,269.5 L304.5,271.6 L305.5,273.3 L306.5,274.7 L306.7,275.0 L307.5,275.9 L308.5,277.0 L309.5,277.9 L310.5,278.7 L311.5,279.5 L312.5,280.2 L313.3,280.8 L313.5,280.9 L314.5,281.6 L315.5,282.2 L316.5,282.8 L317.5,283.3 L318.5,283.9 L319.5,284.6 L320.0,285.0 L320.5,285.4 L321.5,286.3 L322.5,287.4 L323.5,288.4 L324.5,289.5 L325.0,290.0 L325.5,290.5 L326.5,291.8 L327.5,293.1 L328.5,294.2 L329.5,294.9 L330.0,295.0 L330.5,294.9 L331.5,294.5 L332.5,293.7 L333.5,292.9 L334.5,292.0 L335.0,291.7 L335.5,291.4 L336.5,290.6 L337.5,289.8 L338.5,289.1 L339.5,288.6 L340.5,288.3 L340.8,288.3 L341.5,288.4 L342.5,289.0 L343.5,290.0 L344.5,291.1 L345.0,291.7 L345.5,292.4 L346.5,294.7 L347.5,297.6 L348.5,300.5 L349.5,302.9 L350.5,304.1 L350.8,304.2 L351.5,304.2 L352.5,304.2 L353.5,304.2 L354.2,304.2 L354.5,304.1 L355.5,302.4 L356.5,299.4 L357.5,295.9 L358.3,293.3 L358.5,292.7 L359.5,289.3 L360.5,285.6 L361.5,282.3 L362.5,280.0 L363.5,278.5 L364.5,277.2 L365.5,276.3 L366.5,275.8 L366.7,275.8 L367.5,276.0 L368.5,276.6 L369.5,277.4 L370.5,278.3 L371.5,278.9 L372.5,279.2 L373.5,278.8 L374.5,277.8 L375.5,276.4 L376.5,274.7 L377.5,273.0 L378.3,271.7 L378.5,271.4 L379.5,269.6 L380.5,267.7 L381.5,265.6 L382.5,263.6 L383.5,261.6 L384.5,259.9 L385.0,259.2 L385.5,258.5 L386.5,257.2 L387.5,256.0 L388.5,254.9 L389.5,253.9 L390.5,253.0 L391.5,252.2 L391.8,252.0 L392.8,252.4 L393.8,253.1 L394.8,254.0 L395.8,255.0 L396.5,255.8 L396.8,256.2 L397.8,257.5 L398.8,259.2 L399.8,261.2 L400.8,263.4 L401.5,265.0 L401.8,265.7 L402.8,268.6 L403.8,271.9 L404.8,275.5 L405.8,279.3 L406.8,283.2 L407.8,286.9 L408.2,288.3 L408.8,290.4 L409.8,293.9 L410.8,297.5 L411.8,301.1 L412.8,304.6 L413.8,308.1 L414.2,309.5 L414.8,311.8 L415.8,315.5 L416.3,316.7 L416.8,317.6 L417.8,319.1 L418.8,320.4 L419.8,321.4 L420.8,322.1 L421.7,322.5 L421.8,322.5 L422.8,322.7 L423.8,322.9 L424.8,323.0 L425.8,323.2 L426.7,323.3 L426.8,323.3 L427.8,323.5 L428.8,323.7 L429.8,323.9 L430.8,324.2 L431.8,324.4 L432.8,324.8 L433.3,325.0 L433.8,325.3 L434.8,326.4 L435.8,327.9 L436.8,329.5 L437.8,330.9 L438.8,331.6 L439.2,331.7 L439.8,331.7 L440.8,331.7 L441.8,331.7 L442.8,331.7 L443.8,331.7 L444.2,331.7 L444.8,331.6 L445.8,331.2 L446.8,330.4 L447.8,329.6 L448.8,328.6 L449.8,327.7 L450.8,327.1 L451.7,326.7 L451.8,326.7 L452.8,326.5 L453.8,326.3 L454.8,326.1 L455.8,326.0 L456.8,325.9 L457.8,325.8 L458.3,325.8 L458.8,325.8 L459.8,326.0 L460.8,326.2 L461.8,326.5 L462.8,326.7 L463.3,326.7 L463.8,326.6 L464.8,325.7 L465.8,324.2 L466.8,322.5 L467.8,320.7 L468.3,320.0 L468.8,319.3 L469.8,317.8 L470.8,316.3 L471.8,314.9 L472.8,313.4 L473.8,312.2 L474.2,311.7 L474.8,311.0 L475.8,309.8 L476.8,308.6 L477.8,307.7 L478.8,307.1 L479.2,307.0 L479.8,306.9 L480.8,306.9 L481.8,306.8 L482.8,306.7 L483.8,306.7 L484.8,306.7 L485.0,306.7 L485.8,306.7 L486.8,306.9 L487.8,307.1 L488.8,307.4 L489.8,307.7 L490.8,308.1 L491.7,308.3 L491.8,308.3 L492.8,308.6 L493.8,308.9 L494.8,309.3 L495.8,309.6 L496.8,309.8 L497.8,310.0 L498.3,310.0 L498.8,310.0 L499.8,309.8 L500.8,309.5 L501.8,309.1 L502.8,308.6 L503.8,308.1 L504.8,307.6 L505.0,307.5 L505.8,307.1 L506.8,306.5 L507.8,305.9 L508.8,305.2 L509.8,304.5 L510.8,303.8 L511.8,303.0 L512.8,302.1 L513.3,301.7 L513.8,301.2 L514.8,300.1 L515.8,298.9 L516.8,297.6 L517.8,296.3 L518.8,295.1 L519.8,294.1 L520.8,293.3 L521.8,292.7 L522.8,292.1 L523.8,291.7 L524.2,291.7 L524.8,291.8 L525.8,292.5 L526.8,293.6 L527.8,294.9 L528.8,296.5 L529.8,298.0 L530.0,298.3 L530.8,299.6 L531.8,301.3 L532.8,303.3 L533.8,305.5 L534.8,307.8 L535.0,308.3 L535.8,310.4 L536.8,313.3 L537.8,316.5 L538.8,319.7 L539.8,322.7 L540.0,323.3 L540.8,325.6 L541.8,328.4 L542.8,331.2 L543.8,333.8 L544.8,336.2 L545.0,336.7 L545.8,338.4 L546.8,340.4 L547.8,342.3 L548.8,344.2 L549.8,346.3 L550.0,346.7 L550.8,348.6 L551.8,351.0 L552.8,353.5 L553.5,355.0 L553.8,355.6 L554.8,357.7 L555.8,359.5 L556.7,360.8 L556.8,360.9 L557.8,362.1 L558.8,363.2 L559.8,364.2 L560.8,364.8 L561.7,365.0 L561.8,365.0 L562.8,364.8 L563.8,364.4 L564.8,363.8 L565.8,363.0 L566.8,362.3 L567.5,361.7 L567.8,361.5 L568.8,360.5 L569.8,359.3 L570.8,358.0 L571.8,356.7 L572.5,355.8 L572.8,355.4 L573.8,354.2 L574.8,353.0 L575.8,351.7" stroke="#ccc" stroke-width="1.8"/>
  </g>
  <!-- cover anything left of the axis -->
  <rect x="60" y="340" width="9.6" height="12" fill="#fff"/>
  <!-- frame -->
  <g stroke="#3c3c3c" stroke-width="1.3" fill="none">
    <path d="M70.2,67.2 H577.8 V440.0 H70.2 Z"/>
  </g>
  <path d="M82.89,440.0 v-7 M95.58,440.0 v-7 M108.27,440.0 v-7 M120.96,440.0 v-7 M133.65,440.0 v-7 M146.34,440.0 v-7 M159.03,440.0 v-7 M171.72,440.0 v-7 M184.41,440.0 v-7 M197.10,440.0 v-7 M209.79,440.0 v-7 M222.48,440.0 v-7 M235.17,440.0 v-7 M247.86,440.0 v-7 M260.55,440.0 v-7 M273.24,440.0 v-7 M285.93,440.0 v-7 M298.62,440.0 v-7 M311.31,440.0 v-7 M324.00,440.0 v-7 M336.69,440.0 v-7 M349.38,440.0 v-7 M362.07,440.0 v-7 M374.76,440.0 v-7 M387.45,440.0 v-7 M400.14,440.0 v-7 M412.83,440.0 v-7 M425.52,440.0 v-7 M438.21,440.0 v-7 M450.90,440.0 v-7 M463.59,440.0 v-7 M476.28,440.0 v-7 M488.97,440.0 v-7 M501.66,440.0 v-7 M514.35,440.0 v-7 M527.04,440.0 v-7 M539.73,440.0 v-7 M552.42,440.0 v-7 M565.11,440.0 v-7 " stroke="#222" stroke-width="1.2" fill="none"/>
  <!-- arrows -->
  <g stroke="#222" stroke-width="1" fill="#111">
    <path d="M313,226.5 L289.4,246.9" fill="none"/>
    <path d="M284,250.6 L287.2,244.2 L291.8,249.5 Z" stroke="none"/>
    <path d="M265,372 V355" fill="none"/>
    <path d="M265,350 L262.5,356.2 L267.5,356.2 Z" stroke="none"/>
  </g>
  <!-- axis text -->
  <text x="60.4" y="443.9" text-anchor="end">0</text><text x="585.3" y="443.9">0</text><text x="60.4" y="350.7" text-anchor="end">5</text><text x="585.3" y="350.7">5</text><text x="60.4" y="257.9" text-anchor="end">10</text><text x="585.3" y="257.9">10</text><text x="60.4" y="164.2" text-anchor="end">15</text><text x="585.3" y="164.2">15</text>
  <text x="49.3" y="79.2" font-style="italic">%</text>
  <text x="584.6" y="79.2" font-style="italic">%</text>
  <text x="115.0" y="459.4" text-anchor="middle">1968</text><text x="191.2" y="458.7" text-anchor="middle">1974</text><text x="266.5" y="459.4" text-anchor="middle">1980</text><text x="343.4" y="459.4" text-anchor="middle">1986</text><text x="419.6" y="459.4" text-anchor="middle">1992</text><text x="495.7" y="458.7" text-anchor="middle">1998</text><text x="571.9" y="459.4" text-anchor="middle">2004</text>
  <!-- annotations -->
  <text x="289.2" y="116.6">All shocks</text>
  <text x="162.3" y="155.4">No interest error</text>
  <text x="316.6" y="230.5">No supply shocks</text>
  <text x="233.8" y="385">No shocks</text>
  <text x="354.8" y="387">No output error</text>
</svg>
<div id="source">Source: author’s calculations</div>
</body>
</html>
